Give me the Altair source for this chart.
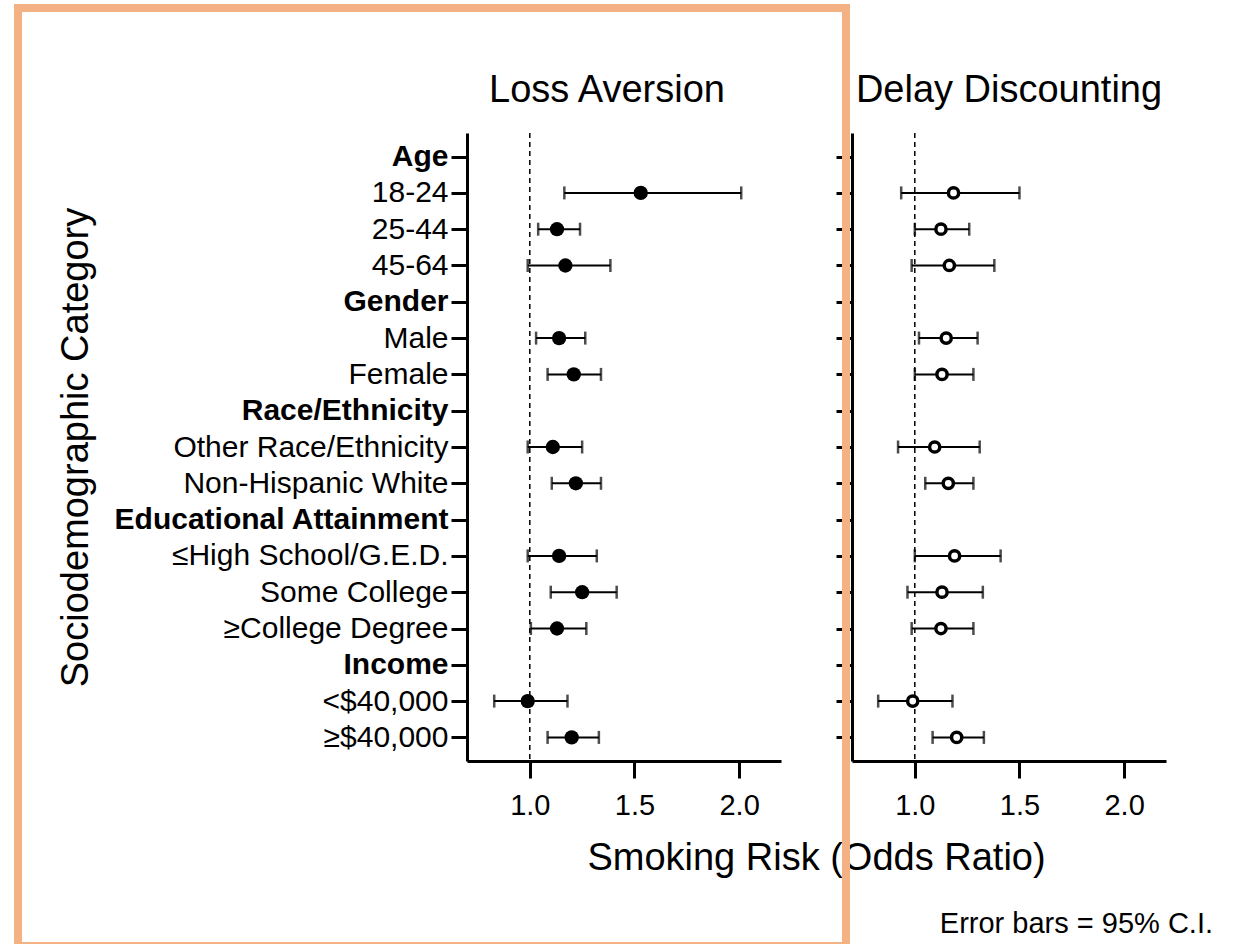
import json
import altair as alt
import pandas as pd

FONT = "Liberation Sans"
ORANGE = "#F4B183"

CATEGORIES = ["Age", "18-24", "25-44", "45-64",
              "Gender", "Male", "Female",
              "Race/Ethnicity", "Other Race/Ethnicity", "Non-Hispanic White",
              "Educational Attainment", "≤High School/G.E.D.", "Some College", "≥College Degree",
              "Income", "<$40,000", "≥$40,000"]
HEADERS = ["Age", "Gender", "Race/Ethnicity", "Educational Attainment", "Income"]
ROWS = [c for c in CATEGORIES if c not in HEADERS]

# Loss Aversion odds ratios and 95% CI
LA_OR = [1.53, 1.13, 1.17, 1.14, 1.21, 1.11, 1.22, 1.14, 1.25, 1.13, 0.99, 1.20]
LA_LO = [1.165, 1.04, 0.99, 1.03, 1.085, 0.99, 1.105, 0.99, 1.10, 1.005, 0.83, 1.085]
LA_HI = [2.01, 1.24, 1.385, 1.265, 1.34, 1.25, 1.34, 1.32, 1.415, 1.27, 1.18, 1.33]

# Delay Discounting odds ratios and 95% CI
DD_OR = [1.185, 1.125, 1.165, 1.15, 1.13, 1.095, 1.16, 1.19, 1.13, 1.125, 0.99, 1.20]
DD_LO = [0.935, 1.0, 0.985, 1.02, 1.0, 0.92, 1.05, 1.0, 0.965, 0.985, 0.825, 1.085]
DD_HI = [1.50, 1.26, 1.38, 1.30, 1.28, 1.31, 1.28, 1.41, 1.325, 1.28, 1.18, 1.33]

X_TICKS = [1.0, 1.5, 2.0]
X_DOMAIN = [0.7, 2.2]
REF_VALUE = [1.0]

W, H = 314, 628

la = pd.DataFrame({"category": ROWS, "or": LA_OR, "lo": LA_LO, "hi": LA_HI})
dd = pd.DataFrame({"category": ROWS, "or": DD_OR, "lo": DD_LO, "hi": DD_HI})

xscale = alt.Scale(domain=X_DOMAIN, nice=False, zero=False)
yscale = alt.Scale(domain=CATEGORIES, type="point", padding=0.65)

bold_cond = {"condition": {"test": "indexof(%s, datum.value) >= 0" % json.dumps(HEADERS),
                           "value": "bold"},
             "value": "normal"}


def make_panel(df, left):
    if left:
        xaxis = alt.Axis(values=X_TICKS, format=".1f", grid=False, labelFontSize=29,
                         tickSize=17, labelPadding=13,
                         title="Smoking Risk (Odds Ratio)", titleX=349, titleY=108,
                         titleAlign="center", titleBaseline="alphabetic",
                         titleFontSize=38, titleFontWeight="normal")
        yaxis = alt.Axis(grid=False, labelFontSize=30, labelFontWeight=bold_cond,
                         labelLimit=600, tickSize=16, labelPadding=3,
                         title="Sociodemographic Category", titleX=-380, titleY=314,
                         titleAngle=270, titleAlign="center", titleBaseline="alphabetic",
                         titleFontSize=38, titleFontWeight="normal")
    else:
        xaxis = alt.Axis(values=X_TICKS, format=".1f", grid=False, labelFontSize=29,
                         tickSize=17, labelPadding=13, title=None)
        yaxis = alt.Axis(grid=False, labels=False, tickSize=16, title=None)

    def X(field):
        return alt.X(field, type="quantitative", scale=xscale, axis=xaxis)

    Y = alt.Y("category:N", scale=yscale, axis=yaxis, sort=CATEGORIES)

    base = alt.Chart(df)
    ref = alt.Chart(pd.DataFrame({"v": REF_VALUE})).mark_rule(
        color="black", strokeWidth=1.5, strokeDash=[5, 4]).encode(x=X("v"))
    bars = base.mark_rule(color="black", strokeWidth=2).encode(x=X("lo"), x2="hi", y=Y)
    cap_lo = base.mark_tick(color="black", thickness=2.5, size=13).encode(x=X("lo"), y=Y)
    cap_hi = base.mark_tick(color="black", thickness=2.5, size=13).encode(x=X("hi"), y=Y)
    if left:
        pts = base.mark_circle(color="black", size=205, opacity=1).encode(x=X("or"), y=Y)
    else:
        pts = base.mark_point(shape="circle", filled=True, fill="white", stroke="black",
                              strokeWidth=3.5, size=105, opacity=1).encode(x=X("or"), y=Y)
    return [ref, bars, cap_lo, cap_hi, pts]


one = pd.DataFrame({"k": [0]})

la_title = alt.Chart(one).mark_text(font=FONT, fontSize=38, color="black", align="center",
                                    baseline="alphabetic", text="Loss Aversion").encode(
    x=alt.value(140), y=alt.value(-31))
dd_title = alt.Chart(one).mark_text(font=FONT, fontSize=38, color="black", align="center",
                                    baseline="alphabetic", text="Delay Discounting").encode(
    x=alt.value(157), y=alt.value(-31))
note = alt.Chart(one).mark_text(font=FONT, fontSize=29, color="black", align="right",
                                baseline="alphabetic", text="Error bars = 95% C.I.").encode(
    x=alt.value(361), y=alt.value(800))


def orange_rect(x, x2, y, y2):
    return alt.Chart(one).mark_rect(color=ORANGE, opacity=1).encode(
        x=alt.value(x), x2=alt.value(x2), y=alt.value(y), y2=alt.value(y2))


# border (coordinates relative to the right panel's plot origin)
border = [
    orange_rect(-838, -830, -129, 811),
    orange_rect(-10, -2, -129, 811),
    orange_rect(-838, -2, -129, -121),
    orange_rect(-838, -2, 809, 811),
]

left = alt.layer(*make_panel(la, True), la_title).properties(width=W, height=H)
right = alt.layer(*make_panel(dd, False), dd_title, note, *border).properties(width=W, height=H)

chart = alt.hconcat(left, right, spacing=71, bounds="flush").properties(
    padding={"left": 14, "top": 4, "right": 20, "bottom": 0}
).configure_axis(
    domainColor="black", domainWidth=3, tickColor="black", tickWidth=3,
    labelColor="black", titleColor="black", labelFont=FONT, titleFont=FONT
).configure_view(strokeWidth=0)

chart.save("out.html", embed_options={"renderer": "svg", "actions": False})
